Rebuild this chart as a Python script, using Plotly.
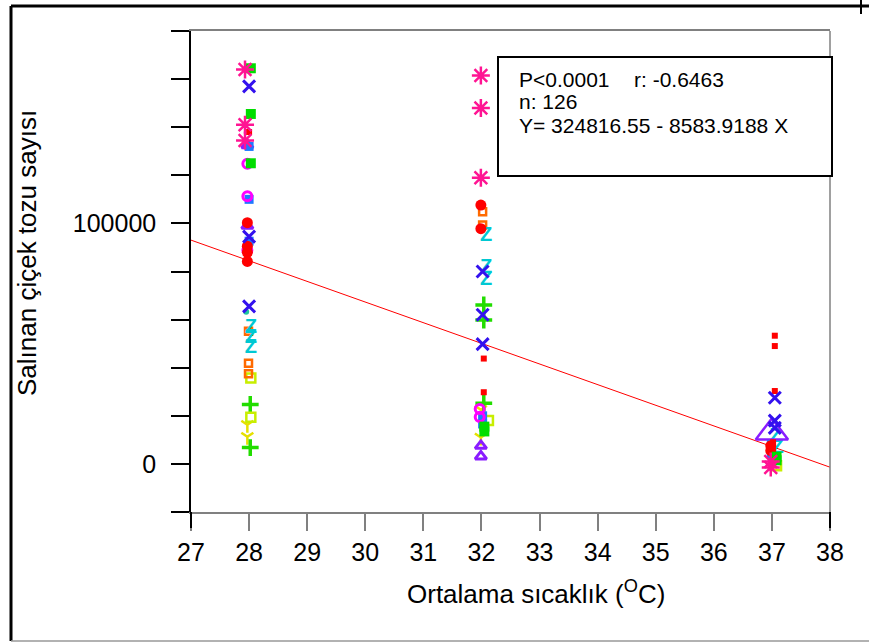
import plotly.graph_objects as go

# ---------------- data ----------------
star_x = [27.93, 27.93, 27.93, 31.99, 31.99, 31.99, 36.98, 36.98]
star_y = [164000, 141000, 134500, 161500, 148000, 119000, -1500, 1000]

gsq_x = [28.03, 28.03, 28.03, 32.05, 32.05, 37.08, 37.08]
gsq_y = [164500, 145500, 125000, 13500, 15500, 1500, 3000]

bx_x = [28.0, 28.0, 28.0, 32.02, 32.02, 32.02, 37.05, 37.05, 37.05]
bx_y = [157000, 94500, 65500, 80000, 62000, 49800, 27500, 18000, 15000]

rsq_x = [28.0, 32.04, 32.04, 37.05, 37.05, 37.05, 37.02, 37.02]
rsq_y = [138000, 43800, 29800, 53300, 49000, 30300, 9000, 3000]

rci_x = [27.97, 27.97, 27.97, 27.97, 31.99, 31.99, 36.98, 36.98]
rci_y = [100300, 90500, 84200, 88000, 107600, 97800, 7500, 5500]

mci_x = [27.97, 27.97, 27.97, 31.97, 31.97]
mci_y = [124800, 111300, 88800, 22800, 19500]

dsq_x = [28.0, 28.0, 28.0, 32.02, 32.02, 36.99, 36.99]
dsq_y = [132000, 110000, 92600, 20000, 16600, 4000, 8000]

ptri_x = [27.97, 27.97, 31.99, 31.99]
ptri_y = [132500, 99000, 7500, 3100]

bigtri_x = [37.0]
bigtri_y = [13100]

cz_x = [28.03, 28.03, 28.03, 32.08, 32.08, 32.08, 37.06, 37.1]
cz_y = [56500, 52300, 48100, 94700, 81400, 76600, 11000, 6800]

osq_x = [27.99, 27.99, 27.99, 32.02, 32.02]
osq_y = [55200, 41800, 37500, 99300, 104800]

teal_x = [27.95]
teal_y = [63300]

ysq_x = [28.03, 28.03, 32.12, 37.08]
ysq_y = [35700, 19400, 18000, -800]

gpl_x = [28.02, 28.02, 32.04, 32.04, 32.04]
gpl_y = [24700, 6800, 66100, 59800, 25200]

yy_x = [27.97, 27.97, 31.99, 31.99]
yy_y = [16300, 11300, 22500, 11000]

# regression: Y = a + b X
reg_a = 324816.55
reg_b = -8583.9188
reg_x = [27, 38]

x_ticks = list(range(27, 39))
y_tickvals = list(range(-20000, 180001, 20000))
y_ticktext = ["0" if v == 0 else ("100000" if v == 100000 else " ") for v in y_tickvals]

stats_lines = ["P<0.0001", "r: -0.6463", "n: 126", "Y= 324816.55 - 8583.9188 X"]

# ---------------- figure ----------------
FONT = "Arial, Liberation Sans, sans-serif"
fig = go.Figure()

def mk(x, y, symbol, color, size, lw=2.5, filled=False):
    m = dict(symbol=symbol, size=size, color=color)
    if filled:
        m["line"] = dict(width=0)
    else:
        m["line"] = dict(color=color, width=lw)
    fig.add_trace(go.Scatter(x=x, y=y, mode="markers", marker=m,
                             showlegend=False, hoverinfo="skip"))

reg_y = [reg_a + reg_b * v for v in reg_x]
fig.add_trace(go.Scatter(x=reg_x, y=reg_y, mode="lines",
                         line=dict(color="#ff0000", width=1),
                         showlegend=False, hoverinfo="skip"))

mk(yy_x, yy_y, "y-down-open", "#e6e000", 10, 2.5)
mk(gpl_x, gpl_y, "cross-thin-open", "#22dd00", 12, 3.5)
mk(ysq_x, ysq_y, "square-open", "#c8ee00", 9, 2.5)
mk(teal_x, teal_y, "circle", "#20c8a0", 6, filled=True)
mk(osq_x, osq_y, "square-open", "#ff6a00", 7, 2.5)
fig.add_trace(go.Scatter(x=cz_x, y=cz_y, mode="text", text=["<b>Z</b>"] * len(cz_x),
                         textfont=dict(color="#00c8d2", size=20, family=FONT),
                         textposition="middle center",
                         showlegend=False, hoverinfo="skip"))
mk(ptri_x, ptri_y, "triangle-up-open", "#8a1cff", 10, 3)
mk(bigtri_x, bigtri_y, "triangle-up-open", "#8a1cff", 28, 2.5)
mk(dsq_x, dsq_y, "square", "#1e78ff", 9, filled=True)
mk(mci_x, mci_y, "circle-open", "#ff00ff", 9, 3)
mk(rci_x, rci_y, "circle", "#ff0000", 11, filled=True)
mk(rsq_x, rsq_y, "square", "#ff0000", 6, filled=True)
mk(bx_x, bx_y, "x-thin-open", "#3311ee", 12, 3)
mk(gsq_x, gsq_y, "square", "#00dd00", 10, filled=True)
mk(star_x, star_y, "asterisk-open", "#ff1493", 15, 2.5)

L, R, T, B = 191, 39, 31, 131
W, H = 869, 643
pw, ph = W - L - R, H - T - B

def px(xp):
    return (xp - L) / pw

def py(yp):
    return (H - B - yp) / ph

shapes = [
    # outer frame
    dict(type="line", xref="paper", yref="paper", x0=px(11), x1=px(11), y0=py(6), y1=py(641),
         line=dict(color="black", width=3)),
    dict(type="line", xref="paper", yref="paper", x0=px(11), x1=px(869), y0=py(6), y1=py(6),
         line=dict(color="black", width=3)),
    dict(type="line", xref="paper", yref="paper", x0=px(11), x1=px(869), y0=py(641), y1=py(641),
         line=dict(color="#999999", width=1.5)),
    dict(type="line", xref="paper", yref="paper", x0=px(861), x1=px(861), y0=py(0), y1=py(14),
         line=dict(color="black", width=2)),
    # black end ticks of x axis
    dict(type="line", xref="paper", yref="paper", x0=0, x1=0, y0=0, y1=py(528),
         line=dict(color="black", width=2)),
    dict(type="line", xref="paper", yref="paper", x0=1, x1=1, y0=0, y1=py(528),
         line=dict(color="black", width=2)),
    # right border of plot
    dict(type="line", xref="paper", yref="paper", x0=1, x1=1, y0=0, y1=1,
         line=dict(color="#808080", width=1.5)),
    # stats box
    dict(type="rect", xref="paper", yref="paper", x0=px(498), x1=px(832), y0=py(176), y1=py(57),
         line=dict(color="black", width=2), fillcolor="white", layer="above"),
]

SF = dict(size=21, family=FONT, color="black")
annotations = [
    dict(text=stats_lines[0], x=px(517), y=py(79), xref="paper", yref="paper",
         xanchor="left", yanchor="middle", showarrow=False, font=SF),
    dict(text=stats_lines[1], x=px(632), y=py(79), xref="paper", yref="paper",
         xanchor="left", yanchor="middle", showarrow=False, font=SF),
    dict(text=stats_lines[2], x=px(517), y=py(102), xref="paper", yref="paper",
         xanchor="left", yanchor="middle", showarrow=False, font=SF),
    dict(text=stats_lines[3], x=px(517), y=py(125), xref="paper", yref="paper",
         xanchor="left", yanchor="middle", showarrow=False, font=SF),
    dict(text="Ortalama sıcaklık (<sup>O</sup>C)", x=px(536), y=py(592), xref="paper", yref="paper",
         xanchor="center", yanchor="middle", showarrow=False, font=dict(size=26, family=FONT, color="black")),
    dict(text="Salınan çiçek tozu sayısı", x=px(27), y=py(253), xref="paper", yref="paper",
         xanchor="center", yanchor="middle", textangle=-90, showarrow=False,
         font=dict(size=26, family=FONT, color="black")),
]

fig.update_layout(
    width=W, height=H,
    margin=dict(l=L, r=R, t=T, b=B, pad=0),
    paper_bgcolor="white", plot_bgcolor="white",
    font=dict(family=FONT, color="black"),
    shapes=shapes, annotations=annotations,
    showlegend=False,
    xaxis=dict(range=[27, 38], tickvals=x_ticks, ticktext=[str(v) for v in x_ticks],
               ticks="outside", ticklen=17, tickwidth=1.5, tickcolor="#808080",
               showline=True, linecolor="#808080", linewidth=1.5, mirror=True,
               showgrid=False, zeroline=False, tickfont=dict(size=25, family=FONT, color="black")),
    yaxis=dict(range=[-20000, 180000], tickvals=y_tickvals, ticktext=y_ticktext,
               ticks="outside", ticklen=18, tickwidth=1.5, tickcolor="black",
               showline=True, linecolor="black", linewidth=1.5, mirror=False,
               showgrid=False, zeroline=False, ticklabelstandoff=10,
               tickfont=dict(size=25, family=FONT, color="black")),
)

fig.write_html("out.html", config={"displayModeBar": False},
               post_script="document.body.style.margin='0';document.body.style.overflow='hidden';")
